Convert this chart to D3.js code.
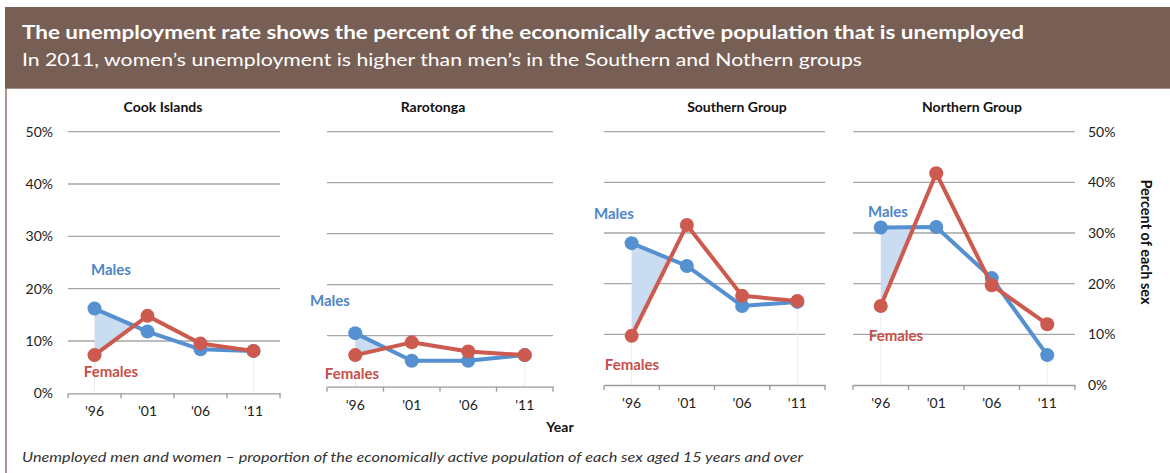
<!DOCTYPE html>
<html>
<head>
<meta charset="utf-8">
<script src="https://cdn.jsdelivr.net/npm/d3@7"></script>
<style>
  body { margin: 0; background: #fff; }
  svg { display: block; }
  text { font-family: Lato, "Open Sans", sans-serif; }
</style>
</head>
<body>
<svg id="chart" width="1170" height="473"></svg>
<script>
// data (percent unemployed)
var years = ["'96", "'01", "'06", "'11"];
var regions = ["Cook Islands", "Rarotonga", "Southern Group", "Northern Group"];
var males = [
    [16.2, 11.8, 8.4, 8.1],
    [10.5, 5.1, 5.1, 6.2],
    [28.0, 23.5, 15.6, 16.4],
    [31.1, 31.2, 21.1, 5.9]
];
var females = [
    [7.3, 14.8, 9.5, 8.1],
    [6.2, 8.7, 6.9, 6.2],
    [9.7, 31.6, 17.6, 16.6],
    [15.6, 41.8, 19.7, 12.0]
];
var yTicks = [0, 10, 20, 30, 40, 50];

// layout of the four small charts (pixels)
var panels = [
    { x0: 68, x1: 280, top: 131.7, bottom: 393.3, title: 163, males: [111, 270], females: [111, 372] },
    { x0: 327, x1: 553, top: 131.7, bottom: 386.7, title: 433, males: [330, 301], females: [352, 374] },
    { x0: 604, x1: 825, top: 131.7, bottom: 385, title: 737, males: [614, 214], females: [632, 365] },
    { x0: 853, x1: 1075, top: 131.7, bottom: 385, title: 972, males: [888, 212], females: [896, 336] }
];

var blue = "#5590d0", red = "#cc5a4f";
var svg = d3.select("#chart");

var defs = svg.append("defs");
defs.append("filter").attr("id", "soft")
    .append("feGaussianBlur").attr("stdDeviation", 0.6);

// header band
svg.append("rect").attr("x", 5).attr("y", 7).attr("width", 1165).attr("height", 81).attr("fill", "#785f55");
svg.append("line").attr("x1", 5).attr("x2", 1170).attr("y1", 88.5).attr("y2", 88.5)
    .attr("stroke", "#a39089").attr("stroke-width", 1);
svg.append("line").attr("x1", 6).attr("x2", 6).attr("y1", 88).attr("y2", 473)
    .attr("stroke", "#8b736a").attr("stroke-width", 1.5);

svg.append("text").attr("x", 22).attr("y", 39)
    .attr("fill", "#fff").attr("font-size", 18).attr("font-weight", "bold")
    .attr("textLength", 1002).attr("lengthAdjust", "spacingAndGlyphs")
    .text("The unemployment rate shows the percent of the economically active population that is unemployed");
svg.append("text").attr("x", 22).attr("y", 66)
    .attr("fill", "#fff").attr("font-size", 18)
    .attr("textLength", 840).attr("lengthAdjust", "spacingAndGlyphs")
    .text("In 2011, women\u2019s unemployment is higher than men\u2019s in the Southern and Nothern groups");

panels.forEach(function(p, i) {
    var g = svg.append("g");

    var x = d3.scaleBand().domain(years).range([p.x0, p.x1]).padding(0);
    var y = d3.scaleLinear().domain([0, 50]).range([p.bottom, p.top]);
    var cx = function(d, j) { return x(years[j]) + x.bandwidth() / 2; };

    // gridlines
    g.selectAll(".grid").data(yTicks.slice(1)).enter().append("line")
        .attr("x1", p.x0).attr("x2", p.x1)
        .attr("y1", function(d) { return y(d); }).attr("y2", function(d) { return y(d); })
        .attr("stroke", "#a6a6a6").attr("stroke-width", 1.3);

    // title
    g.append("text").attr("x", p.title).attr("y", 112)
        .attr("text-anchor", "middle").attr("font-size", 14).attr("font-weight", "bold")
        .attr("fill", "#111").text(regions[i]);

    // shaded gap between the lines in the first interval
    var m = males[i], f = females[i];
    var d0 = m[0] - f[0], d1 = m[1] - f[1];
    if (d0 > 0) {
        var t = d1 < 0 ? d0 / (d0 - d1) : 1;
        var xa = cx(null, 0), xb = cx(null, 1);
        var xt = xa + t * (xb - xa);
        var vt = m[0] + t * (m[1] - m[0]);
        var pts = [[xa, y(m[0])], [xt, y(vt)]];
        if (t === 1) pts.push([xb, y(f[1])]);
        pts.push([xa, y(f[0])]);
        g.append("polygon").attr("points", pts.map(function(q) { return q.join(","); }).join(" "))
            .attr("fill", "#c9dcf1");
    }

    // faint drop lines at the first and last year
    [0, 3].forEach(function(j) {
        var lo = Math.min(m[j], f[j]);
        g.append("line").attr("x1", cx(null, j)).attr("x2", cx(null, j))
            .attr("y1", y(lo)).attr("y2", y(0))
            .attr("stroke", "#ededed").attr("stroke-width", 1);
    });

    // bottom axis: labels from the band scale, ticks at band edges
    var ax = g.append("g").attr("transform", "translate(0," + p.bottom + ")")
        .call(d3.axisBottom(x).tickSizeInner(0).tickSizeOuter(0).tickPadding(13));
    ax.select(".domain").attr("stroke", "#9a9a9a").attr("stroke-width", 1.3);
    ax.selectAll("text").attr("font-size", 14).attr("fill", "#222")
        .attr("font-family", "Lato, sans-serif");
    var edges = years.map(function(d) { return x(d); }).concat([p.x1]);
    ax.selectAll(".edge").data(edges).enter().append("line")
        .attr("x1", function(d) { return d; }).attr("x2", function(d) { return d; })
        .attr("y1", 0).attr("y2", 5).attr("stroke", "#9a9a9a").attr("stroke-width", 1.3);

    // value axis labels: left on the first chart, right on the last
    var fmt = function(d) { return d + "%"; };
    if (i === 0) {
        var la = g.append("g").attr("transform", "translate(" + (p.x0 - 2) + ",0)")
            .call(d3.axisLeft(y).tickValues(yTicks).tickSize(0).tickPadding(13).tickFormat(fmt));
        la.select(".domain").remove();
        la.selectAll("text").attr("font-size", 14).attr("fill", "#222").attr("font-family", "Lato, sans-serif");
    }
    if (i === 3) {
        var ra = g.append("g").attr("transform", "translate(" + p.x1 + ",0)")
            .call(d3.axisRight(y).tickValues(yTicks).tickSize(0).tickPadding(13).tickFormat(fmt));
        ra.select(".domain").remove();
        ra.selectAll("text").attr("font-size", 14).attr("fill", "#222").attr("font-family", "Lato, sans-serif");
    }

    var line = d3.line().x(function(d, j) { return cx(d, j); }).y(function(d) { return y(d); });

    [[m, blue], [f, red]].forEach(function(s) {
        g.append("path").datum(s[0]).attr("d", line)
            .attr("fill", "none").attr("stroke", s[1]).attr("stroke-width", 4)
            .attr("stroke-linejoin", "round");
        g.selectAll(null).data(s[0]).enter().append("circle")
            .attr("cx", cx).attr("cy", function(d) { return y(d); })
            .attr("r", 7).attr("fill", s[1]).attr("filter", "url(#soft)");
    });

    // series labels
    g.append("text").attr("x", p.males[0]).attr("y", p.males[1] + 5)
        .attr("text-anchor", "middle").attr("font-size", 15).attr("font-weight", "bold")
        .attr("fill", "#4f86c6").text("Males");
    g.append("text").attr("x", p.females[0]).attr("y", p.females[1] + 5)
        .attr("text-anchor", "middle").attr("font-size", 15).attr("font-weight", "bold")
        .attr("fill", "#c4504a").text("Females");
});

// axis titles
svg.append("text").attr("x", 560).attr("y", 432)
    .attr("text-anchor", "middle").attr("font-size", 14).attr("font-weight", "bold")
    .attr("fill", "#111").text("Year");
svg.append("text").attr("transform", "translate(1141,242) rotate(90)")
    .attr("text-anchor", "middle").attr("font-size", 14.5).attr("font-weight", "bold")
    .attr("fill", "#111").text("Percent of each sex");

// footnote
svg.append("text").attr("x", 22).attr("y", 462)
    .attr("font-family", "'Liberation Sans', Arial, sans-serif").attr("font-style", "italic")
    .attr("font-size", 13.5).attr("fill", "#333")
    .attr("textLength", 781).attr("lengthAdjust", "spacingAndGlyphs")
    .text("Unemployed men and women \u2013 proportion of the economically active population of each sex aged 15 years and over");
</script>
</body>
</html>
